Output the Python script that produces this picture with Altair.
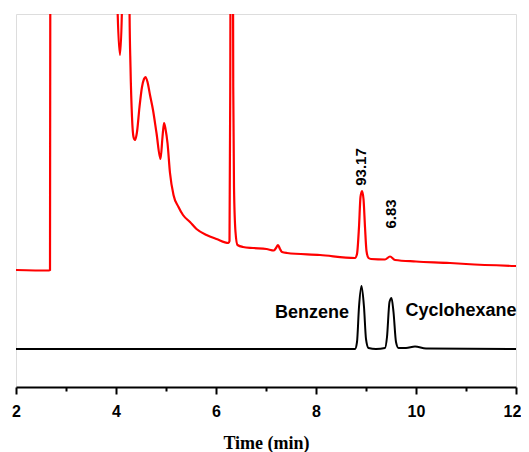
import altair as alt
import pandas as pd

# Red chromatogram (sample) : time (min), signal (a.u.)
red_t = [2.00, 2.66, 2.68, 2.69, 2.75, 3.9, 4.00, 4.03, 4.08, 4.12, 4.15, 4.20, 4.25, 4.27, 4.29,
         4.32, 4.35, 4.38, 4.42, 4.47, 4.52, 4.56, 4.59, 4.63, 4.68, 4.74, 4.81, 4.89, 4.93,
         4.96, 4.99, 5.03, 5.08, 5.15, 5.25, 5.34, 5.48, 5.61, 5.81, 6.01, 6.25, 6.27, 6.285,
         6.30, 6.33, 6.345, 6.36, 6.39, 6.43, 6.54, 6.74, 7.01, 7.16, 7.20, 7.24, 7.28, 7.32,
         7.42, 8.08, 8.78, 8.82, 8.86, 8.89, 8.92, 8.95, 8.98, 9.01, 9.05, 9.10, 9.38, 9.48,
         9.58, 10.00, 10.68, 11.00, 12.00]
red_v = [117, 116.5, 117, 600, 900, 900, 600, 380, 332, 380, 600, 900, 600, 380, 320,
         270, 250, 247, 255, 280, 300, 308, 310, 305, 292, 277, 254, 228, 250,
         264, 258, 244, 214, 192, 180, 172, 165, 158, 152, 148, 144, 146, 300,
         600, 600, 300, 200, 155, 142, 140, 139, 138, 136.5, 139, 142, 138, 135,
         134, 132, 129, 133, 160, 190, 196, 188, 160, 136, 129, 128, 127.5, 130.5,
         127, 125.5, 124, 123, 121]

# Black chromatogram (standards)
blk_t = [2.00, 8.78, 8.82, 8.86, 8.91, 8.96, 9.00, 9.05, 9.20, 9.38, 9.42, 9.47, 9.51,
         9.55, 9.60, 9.65, 9.80, 9.98, 10.20, 12.00]
blk_v = [38, 38, 45, 80, 101, 80, 48, 39, 38, 39, 50, 85, 89, 75, 45, 39, 39, 40.5, 38.5, 38]

# Annotations
ann_text = ["93.17", "6.83"]
ann_t = [8.90, 9.50]
ann_v = [220, 173]

lbl_text = ["Benzene", "Cyclohexane"]
lbl_t = [7.92, 10.90]
lbl_v = [74, 76]

x_ticks = [2, 3, 4, 5, 6, 7, 8, 9, 10, 11, 12]

red_df = pd.DataFrame({"t": red_t, "v": red_v, "order": range(len(red_t))})
blk_df = pd.DataFrame({"t": blk_t, "v": blk_v, "order": range(len(blk_t))})
ann_df = pd.DataFrame({"t": ann_t, "v": ann_v, "text": ann_text})
lbl_df = pd.DataFrame({"t": lbl_t, "v": lbl_v, "text": lbl_text})

xscale = alt.Scale(domain=[2, 12], nice=False, zero=False)
yscale = alt.Scale(domain=[0, 373], nice=False, zero=False)

xaxis = alt.Axis(
    title="Time (min)", values=x_ticks,
    labelExpr="datum.value % 2 == 0 ? datum.label : ''",
    grid=False, domainColor="black", domainWidth=2, tickColor="black", tickWidth=2,
    tickSize={"condition": {"test": "datum.value % 2 == 0", "value": 7}, "value": 4},
    labelOffset={"condition": {"test": "datum.value == 12", "value": -4}, "value": 0},
    labelFont="Liberation Sans", labelFontWeight="bold", labelFontSize=16,
    labelColor="black", labelPadding=9, labelFlush=False,
    titleFont="Liberation Serif", titleFontWeight="bold", titleFontSize=18,
    titleColor="black", titlePadding=15,
)

red = alt.Chart(red_df).mark_line(color="#ff0000", strokeWidth=2.2, clip=True, interpolate="monotone").encode(
    x=alt.X("t:Q", scale=xscale, axis=xaxis),
    y=alt.Y("v:Q", scale=yscale, axis=None),
    order="order:Q",
)

blk = alt.Chart(blk_df).mark_line(color="black", strokeWidth=2, clip=True, interpolate="monotone").encode(
    x=alt.X("t:Q", scale=xscale),
    y=alt.Y("v:Q", scale=yscale),
    order="order:Q",
)

ann = alt.Chart(ann_df).mark_text(
    angle=270, font="Liberation Sans", fontWeight="bold", fontSize=15, color="black",
    align="center", baseline="middle",
).encode(x=alt.X("t:Q", scale=xscale), y=alt.Y("v:Q", scale=yscale), text="text:N")

lbl = alt.Chart(lbl_df).mark_text(
    font="Liberation Sans", fontWeight="bold", fontSize=18, color="black",
    align="center", baseline="middle",
).encode(x=alt.X("t:Q", scale=xscale), y=alt.Y("v:Q", scale=yscale), text="text:N")

chart = alt.layer(red, blk, ann, lbl).properties(
    width=500, height=373,
    autosize=alt.AutoSizeParams(type="none"),
    padding={"left": 8, "top": 6, "right": 5, "bottom": 65},
).configure_view(stroke=None).configure(background="white")

chart.save("out.html", embed_options={"renderer": "svg", "actions": False})
